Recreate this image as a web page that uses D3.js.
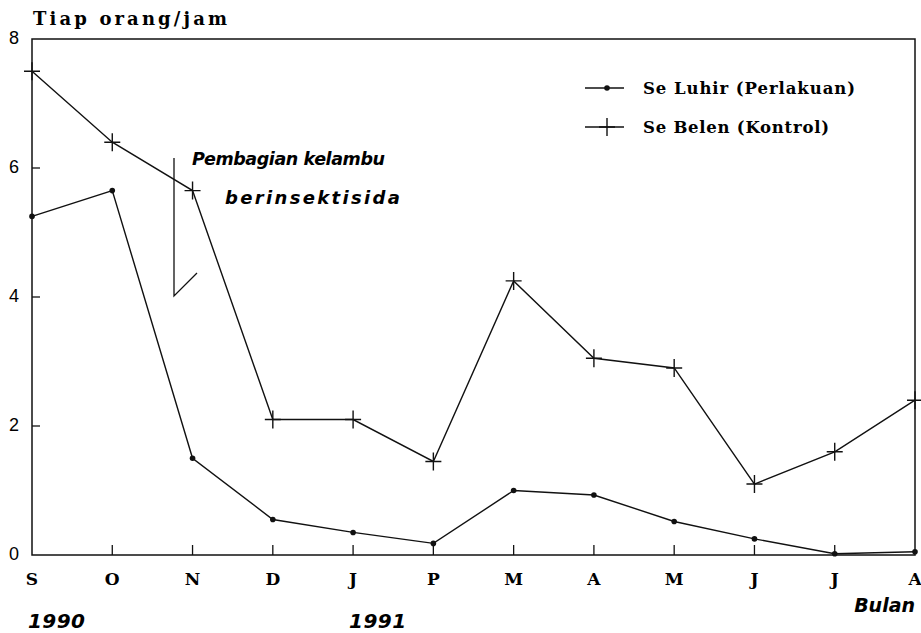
<!DOCTYPE html>
<html>
<head>
<meta charset="utf-8">
<script src="https://cdn.jsdelivr.net/npm/d3@7"></script>
<style>
  body { margin: 0; background: #fff; }
  .serif { font-family: "DejaVu Serif", "Liberation Serif", serif; font-weight: bold; }
  .ital { font-family: "DejaVu Sans", "Liberation Sans", sans-serif; font-weight: bold; font-style: italic; }
</style>
</head>
<body>
<svg id="chart" width="921" height="633"></svg>
<script>
"use strict";

// data
const months = ["S", "O", "N", "D", "J", "P", "M", "A", "M", "J", "J", "A"];
const luhir = [5.25, 5.65, 1.5, 0.55, 0.35, 0.18, 1.0, 0.93, 0.52, 0.25, 0.02, 0.05];
const belen = [7.5, 6.4, 5.65, 2.1, 2.1, 1.45, 4.25, 3.05, 2.9, 1.1, 1.6, 2.4];
const yTicks = [0, 2, 4, 6, 8];
const years = [{ label: "1990", idx: 0 }, { label: "1991", idx: 4 }];

const svg = d3.select("#chart");
const m = { left: 32, top: 39, right: 915, bottom: 555 };

const x = d3.scalePoint().domain(d3.range(months.length)).range([m.left, m.right]);
const y = d3.scaleLinear().domain([0, 8]).range([m.bottom, m.top]);

// frame
svg.append("rect")
  .attr("x", m.left).attr("y", m.top)
  .attr("width", m.right - m.left).attr("height", m.bottom - m.top)
  .attr("fill", "none").attr("stroke", "#111").attr("stroke-width", 1.5);

// x ticks (inward)
svg.append("g").selectAll("line").data(d3.range(1, months.length - 1)).join("line")
  .attr("x1", d => x(d)).attr("x2", d => x(d))
  .attr("y1", m.bottom).attr("y2", m.bottom - 10)
  .attr("stroke", "#111").attr("stroke-width", 1.3);

svg.append("g").selectAll("text").data(months).join("text")
  .attr("class", "serif")
  .attr("x", (d, i) => x(i)).attr("y", 585)
  .attr("text-anchor", "middle").attr("font-size", 17)
  .text(d => d);

// y ticks
svg.append("g").selectAll("line").data(yTicks.slice(1, -1)).join("line")
  .attr("x1", m.left).attr("x2", m.left + 8)
  .attr("y1", d => y(d)).attr("y2", d => y(d))
  .attr("stroke", "#111").attr("stroke-width", 1.3);

svg.append("g").selectAll("text").data(yTicks).join("text")
  .attr("x", 14).attr("y", d => y(d))
  .attr("text-anchor", "middle").attr("dominant-baseline", "middle")
  .attr("font-family", "Liberation Sans, Arial, sans-serif")
  .attr("font-size", 18)
  .text(d => d);

// axis titles
svg.append("text").attr("class", "serif")
  .attr("x", 33).attr("y", 25).attr("font-size", 18)
  .attr("textLength", 194).attr("lengthAdjust", "spacing")
  .text("Tiap orang/jam");

svg.append("text").attr("class", "ital")
  .attr("x", m.right).attr("y", 612).attr("text-anchor", "end")
  .attr("font-size", 19)
  .text("Bulan");

svg.append("g").selectAll("text").data(years).join("text")
  .attr("class", "ital")
  .attr("x", d => x(d.idx) - 4).attr("y", 628)
  .attr("font-size", 20)
  .attr("textLength", 57).attr("lengthAdjust", "spacing")
  .text(d => d.label);

// lines
const line = d3.line().x((d, i) => x(i)).y(d => y(d));

svg.append("path").datum(belen).attr("d", line)
  .attr("fill", "none").attr("stroke", "#111").attr("stroke-width", 1.4);
svg.append("path").datum(luhir).attr("d", line)
  .attr("fill", "none").attr("stroke", "#111").attr("stroke-width", 1.4);

// markers
const drawPlus = (g, cx, cy) => {
  g.append("path")
    .attr("d", `M${cx - 8},${cy}H${cx + 8}M${cx},${cy - 9}V${cy + 9}`)
    .attr("stroke", "#111").attr("stroke-width", 1.4).attr("fill", "none");
};
const pg = svg.append("g");
belen.forEach((v, i) => drawPlus(pg, x(i), y(v)));

svg.append("g").selectAll("circle").data(luhir).join("circle")
  .attr("cx", (d, i) => x(i)).attr("cy", d => y(d))
  .attr("r", 2.8).attr("fill", "#111");

// annotation
svg.append("path")
  .attr("d", "M174,158V296L197,273")
  .attr("fill", "none").attr("stroke", "#111").attr("stroke-width", 1.3);
svg.append("text").attr("class", "ital")
  .attr("x", 192).attr("y", 165).attr("font-size", 17.5)
  .attr("textLength", 193).attr("lengthAdjust", "spacing")
  .text("Pembagian kelambu");
svg.append("text").attr("class", "ital")
  .attr("x", 225).attr("y", 204).attr("font-size", 18)
  .attr("textLength", 175).attr("lengthAdjust", "spacing")
  .text("berinsektisida");

// legend
const legend = [
  { label: "Se Luhir (Perlakuan)", y: 88, kind: "dot", w: 212 },
  { label: "Se Belen (Kontrol)", y: 127, kind: "plus", w: 186 }
];
const lg = svg.append("g");
legend.forEach(d => {
  lg.append("line").attr("x1", 585).attr("x2", 624)
    .attr("y1", d.y).attr("y2", d.y)
    .attr("stroke", "#111").attr("stroke-width", 1.3);
  if (d.kind === "dot") {
    lg.append("circle").attr("cx", 607).attr("cy", d.y).attr("r", 2.8).attr("fill", "#111");
  } else {
    drawPlus(lg, 607, d.y);
  }
  lg.append("text").attr("class", "serif")
    .attr("x", 643).attr("y", d.y).attr("dy", "0.35em")
    .attr("font-size", 16.5)
    .attr("textLength", d.w).attr("lengthAdjust", "spacing")
    .text(d.label);
});
</script>
</body>
</html>
